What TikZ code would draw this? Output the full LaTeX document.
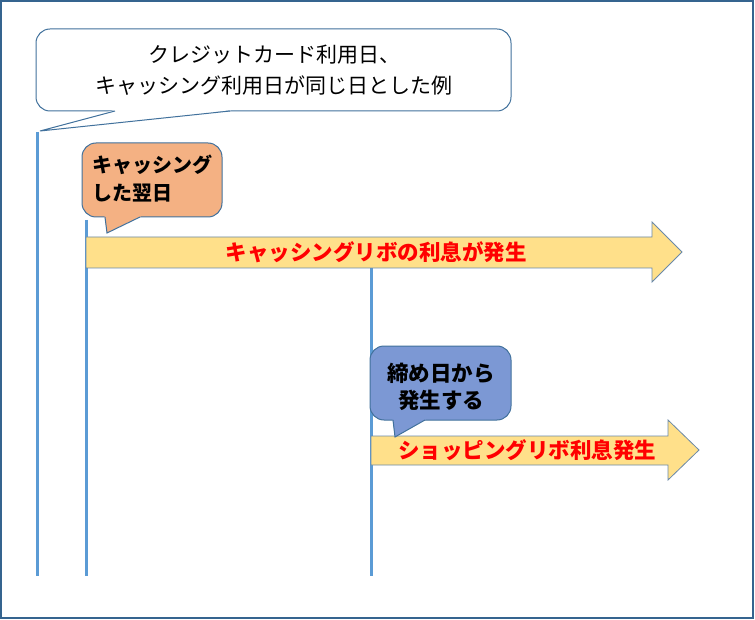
\documentclass[tikz,border=0pt]{standalone}
\usepackage{fontspec}
\setmainfont{Noto Sans CJK JP}
\newfontfamily\jp{Noto Sans CJK JP}
\definecolor{frameblue}{HTML}{41719C}
\definecolor{borderblue}{HTML}{35648F}
\definecolor{lineblue}{HTML}{5B9BD5}
\definecolor{calloutorange}{HTML}{F4B183}
\definecolor{calloutblue}{HTML}{7C98D4}
\definecolor{arrowyellow}{HTML}{FFE08A}
\definecolor{arrowedge}{HTML}{6A89A8}
\definecolor{textred}{HTML}{FF0000}
\tikzset{
  outline/.style={draw=frameblue,line width=1pt,rounded corners=14pt},
  tailedge/.style={draw=frameblue,line width=1pt,line join=miter},
  timeline/.style={draw=lineblue,line width=3pt},
  bigarrow/.style={draw=arrowedge,fill=arrowyellow,line width=0.8pt,line join=miter},
  plaintxt/.style={font=\jp\fontsize{21}{31}\selectfont,align=center,text=black,inner sep=0pt},
  boldtxt/.style={font=\jp\bfseries\fontsize{20}{28}\selectfont,text=black,inner sep=0pt},
  boldtxtb/.style={font=\jp\bfseries\fontsize{21.5}{28}\selectfont,text=black,inner sep=0pt},
  redtxt/.style={font=\jp\bfseries\fontsize{21.5}{24}\selectfont,text=textred,inner sep=0pt}
}
\begin{document}
\begin{tikzpicture}[x=1pt,y=-1pt]
\useasboundingbox (0,0) rectangle (755,620);
% outer frame
\draw[draw=borderblue,line width=2pt] (1,1) rectangle (753,618);

% time lines
\coordinate (l1top) at (37,132);
\coordinate (l1bot) at (37,576);
\coordinate (l2top) at (86,220);
\coordinate (l2bot) at (86,576);
\coordinate (l3top) at (371,268);
\coordinate (l3bot) at (371,576);
\draw[timeline] (l1top) -- (l1bot);
\draw[timeline] (l2top) -- (l2bot);
\draw[timeline] (l3top) -- (l3bot);

% top callout
\path[outline,fill=white] (36,29) rectangle (511,111);
\fill[white] (114,110.2) -- (40,131) -- (231,110.2) -- cycle;
\path[tailedge] (115,111) -- (40,131) -- (230,111);
\node[plaintxt] (title) at (274,70) {クレジットカード利用日、\\キャッシング利用日が同じ日とした例};

% big arrow 1
\path[bigarrow] (86,237) -- (652,237) -- (652,222) -- (682,252) -- (652,282) -- (652,268) -- (86,268) -- cycle;
\node[redtxt] (a1) at (376,252) {キャッシングリボの利息が発生};

% orange callout
\path[outline,fill=calloutorange] (82,143) rectangle (222,217);
\fill[calloutorange] (104.5,216.2) -- (107,233) -- (141,216.2) -- cycle;
\path[tailedge] (105,217) -- (107,233) -- (140,217);
\node[boldtxt,anchor=west] (c1a) at (92,165) {キャッシング};
\node[boldtxt,anchor=west] (c1b) at (92,193) {した翌日};

% big arrow 2
\path[bigarrow] (371,436) -- (668,436) -- (668,420) -- (699,450) -- (668,480) -- (668,465) -- (371,465) -- cycle;
\node[redtxt] (a2) at (527,450) {ショッピングリボ利息発生};

% blue callout
\path[outline,fill=calloutblue] (370,346) rectangle (511,420);
\fill[calloutblue] (392.5,419.2) -- (395,437) -- (426,419.2) -- cycle;
\path[tailedge] (393,420) -- (395,437) -- (425,420);
\node[boldtxtb] (c2a) at (441,373) {締め日から};
\node[boldtxtb] (c2b) at (441,400) {発生する};
\end{tikzpicture}
\end{document}
